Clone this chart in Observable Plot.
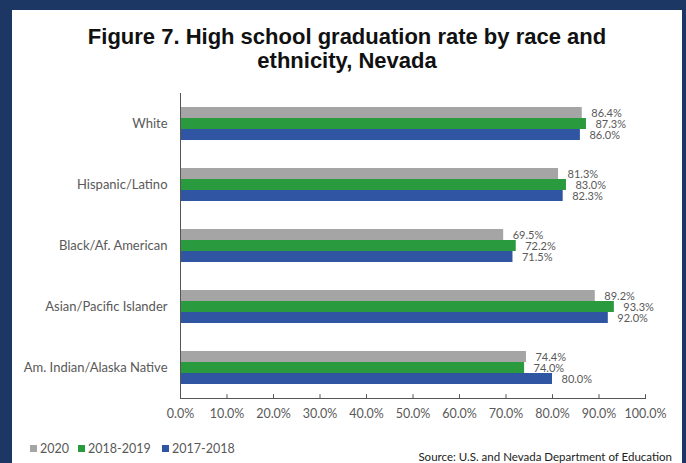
<!DOCTYPE html>
<html><head><meta charset="utf-8">
<script src="https://cdn.jsdelivr.net/npm/d3@7"></script>
<script src="https://cdn.jsdelivr.net/npm/@observablehq/plot@0.6"></script>
<style>
html,body{margin:0;padding:0;background:#1c3764;width:686px;height:463px;overflow:hidden}
#panel{position:absolute;left:12px;top:10px;width:670px;height:453px;background:#fff}
#title{position:absolute;left:0;top:15px;width:670px;text-align:center;font:bold 22px "Liberation Sans",Arial,sans-serif;line-height:24px;color:#111}
#chart{position:absolute;left:0;top:76px}
#legend{position:absolute;left:0;top:429px;width:300px;height:18px;font:12.5px Lato,sans-serif;color:#595959}
#legend span.item{position:absolute;top:0;display:inline-flex;align-items:center;height:18px}
#legend span.sw{display:inline-block;width:7px;height:7px;margin-right:3px}
#source{position:absolute;right:10px;top:440px;font:11.5px Lato,sans-serif;color:#222}
</style></head>
<body>
<div id="panel">
  <div id="title">Figure 7. High school graduation rate by race and<br>ethnicity, Nevada</div>
  <div id="chart"></div>
  <div id="legend"></div>
  <div id="source">Source: U.S. and Nevada Department of Education</div>
</div>
<script>
const categories = ["White", "Hispanic/Latino", "Black/Af. American", "Asian/Pacific Islander", "Am. Indian/Alaska Native"];
const series = ["2020", "2018-2019", "2017-2018"];
const rates2020 = [86.4, 81.3, 69.5, 89.2, 74.4];
const rates2019 = [87.3, 83.0, 72.2, 93.3, 74.0];
const rates2018 = [86.0, 82.3, 71.5, 92.0, 80.0];
const xTicks = [0, 10, 20, 30, 40, 50, 60, 70, 80, 90, 100];
const colors = ["#a5a5a5", "#2a9a3e", "#2f55a3"];

const seriesValues = [rates2020, rates2019, rates2018];
const rows = [];
categories.forEach((c, i) => series.forEach((s, j) => rows.push({category: c, series: s, value: seriesValues[j][i]})));
const fmt = d => d.toFixed(1) + "%";

const H = 342, MT = 6, MB = 30;
const facetH = (H - MT - MB) / categories.length;

const chart = Plot.plot({
  width: 670, height: H,
  marginLeft: 168, marginRight: 37, marginTop: MT, marginBottom: MB,
  style: {fontFamily: "Lato, sans-serif", fontSize: "12px", color: "#595959", background: "transparent"},
  x: {domain: [0, 100]},
  y: {domain: series, paddingInner: 0, paddingOuter: 1.1, axis: null},
  fy: {domain: categories, padding: 0, label: null},
  color: {domain: series, range: colors},
  marks: [
    Plot.barX(rows, {fy: "category", y: "series", x: "value", fill: "series"}),
    Plot.text(rows, {fy: "category", y: "series", x: "value", text: d => fmt(d.value), textAnchor: "start", dx: 9, fill: "#595959", fontSize: 11}),
    Plot.ruleX([0], {stroke: "#555"}),
    Plot.frame({anchor: "bottom", facetAnchor: "bottom", stroke: "#555"}),
    Plot.tickX(xTicks, {x: d => d, facetAnchor: "bottom", insetTop: facetH - 4, stroke: "#555"}),
    Plot.axisX({ticks: xTicks, tickFormat: fmt, tickSize: 0, tickPadding: 11, label: null, fontSize: 12.5}),
    Plot.axisFy({anchor: "left", tickSize: 0, tickPadding: 13, label: null, fontSize: 13})
  ]
});
document.getElementById("chart").appendChild(chart);

const legendLeft = [18, 66, 150];
const legend = d3.select("#legend");
series.forEach((s, i) => {
  const it = legend.append("span").attr("class", "item").style("left", legendLeft[i] + "px");
  it.append("span").attr("class", "sw").style("background", colors[i]);
  it.append("span").text(s);
});
</script>
</body></html>
